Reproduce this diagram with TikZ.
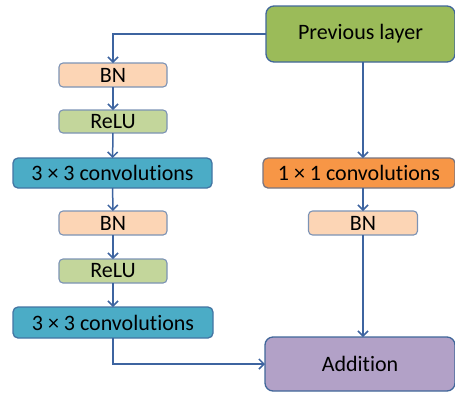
\documentclass[tikz,border=0pt]{standalone}
\usepackage{fontspec}
\setmainfont{Carlito}[Ligatures=CommonOff]
\usetikzlibrary{arrows.meta}
\definecolor{bord}{HTML}{41679A}
\definecolor{lbord}{HTML}{7C93B5}
\definecolor{arr}{HTML}{3D64A0}
\definecolor{cprev}{HTML}{9BBB59}
\definecolor{cbn}{HTML}{FCD5B5}
\definecolor{crelu}{HTML}{C3D69B}
\definecolor{cconv}{HTML}{4BACC6}
\definecolor{cone}{HTML}{F79646}
\definecolor{cadd}{HTML}{B2A1C7}
\tikzset{
  base/.style={draw, line width=1.3pt, anchor=center, inner sep=0pt, outer sep=0pt, font=\fontsize{22}{26}\selectfont, text=black},
  bigbox/.style={base, draw=bord, rounded corners=8pt},
  smallbox/.style={base, draw=lbord, line width=1.1pt, rounded corners=4pt},
  convbox/.style={base, draw=bord!80!cconv, rounded corners=5pt},
  conn/.style={draw=arr, line width=1.5pt, -{Straight Barb[length=5pt,width=10pt,line width=1.5pt]}},
}
\begin{document}
\begin{tikzpicture}[x=1pt,y=-1pt]
\useasboundingbox (0,0) rectangle (455,392);
\node[bigbox, fill=cprev, minimum width=189pt, minimum height=56pt] (prev) at (360.5,34) {Previous layer};
\node[smallbox, fill=cbn, minimum width=108pt, minimum height=24pt] (bn1) at (113,75) {BN};
\node[smallbox, fill=crelu, minimum width=108pt, minimum height=23pt] (relu1) at (113,121.5) {ReLU};
\node[convbox, fill=cconv, minimum width=199pt, minimum height=30pt] (conv1) at (112.5,173) {3 × 3 convolutions};
\node[smallbox, fill=cbn, minimum width=108pt, minimum height=24pt] (bn2) at (113,223) {BN};
\node[smallbox, fill=crelu, minimum width=108pt, minimum height=24pt] (relu2) at (113,271) {ReLU};
\node[convbox, fill=cconv, minimum width=200pt, minimum height=31pt] (conv2) at (113,322.5) {3 × 3 convolutions};
\node[convbox, draw=bord!70!cone, fill=cone, minimum width=192pt, minimum height=30pt] (one) at (359,173) {1 × 1 convolutions};
\node[smallbox, fill=cbn, minimum width=109pt, minimum height=24pt] (bnr) at (363,223) {BN};
\node[bigbox, fill=cadd, minimum width=190pt, minimum height=54pt] (add) at (360,364) {Addition};
\draw[conn] (prev.west) -| (bn1.north);
\draw[conn] (bn1) -- (relu1);
\draw[conn] (relu1) -- (conv1);
\draw[conn] (conv1) -- (bn2);
\draw[conn] (bn2) -- (relu2);
\draw[conn] (relu2) -- (conv2);
\draw[conn] (conv2.south) |- (add.west);
\draw[conn] (prev.south -| bnr.north) -- (one.north -| bnr.north);
\draw[conn] (one.south -| bnr.north) -- (bnr.north);
\draw[conn] (bnr.south) -- (add.north -| bnr.south);
\end{tikzpicture}
\end{document}
